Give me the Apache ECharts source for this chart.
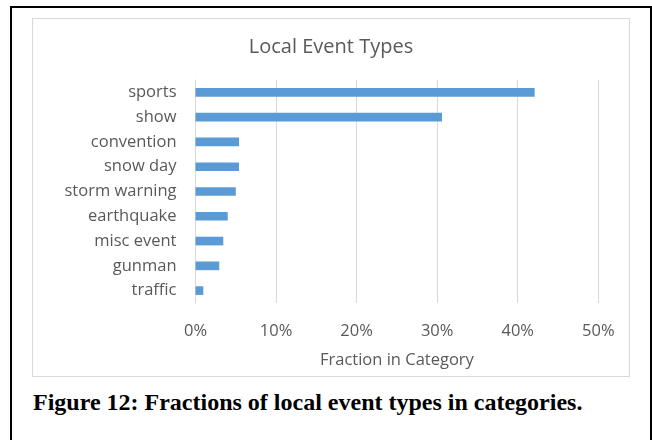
<!DOCTYPE html>
<html>
<head>
<meta charset="utf-8">
<script src="https://cdn.jsdelivr.net/npm/echarts@6/dist/echarts.min.js"></script>
<style>
body{ margin:0; background:#fff; width:652px; height:440px; overflow:hidden; position:relative; }
.outer{ position:absolute; left:10px; top:6px; width:638px; height:460px; border:2px solid #000; }
#chart{ position:absolute; left:32px; top:18px; width:598px; height:359px; border:1px solid #d9d9d9; box-sizing:border-box; }
.caption{ position:absolute; left:33px; top:389px; font:bold 24px "Liberation Serif", "Times New Roman", serif; color:#000; white-space:nowrap; }
</style>
</head>
<body>
<div class="outer"></div>
<div id="chart"></div>
<div class="caption">Figure 12: Fractions of local event types in categories.</div>
<script>
// categories top to bottom, values in percent
var categories = ['sports', 'show', 'convention', 'snow day', 'storm warning', 'earthquake', 'misc event', 'gunman', 'traffic'];
var fractions = [42.1, 30.6, 5.4, 5.4, 5.0, 4.0, 3.45, 2.95, 0.97];
var tickValues = [0, 10, 20, 30, 40, 50];

var myChart = echarts.init(document.getElementById('chart'));
var option = {
    animation: false,
    textStyle: { fontFamily: 'Open Sans' },
    title: {
        text: 'Local Event Types',
        left: 'center',
        top: 18,
        padding: 0,
        textStyle: { fontFamily: 'Open Sans', fontSize: 20, fontWeight: 'normal', color: '#595959' }
    },
    grid: { left: 162.5, right: 30.7, top: 61, bottom: 73 },
    xAxis: {
        type: 'value',
        min: tickValues[0],
        max: tickValues[tickValues.length - 1],
        interval: 10,
        name: 'Fraction in Category',
        nameLocation: 'middle',
        nameGap: 49,
        nameTextStyle: { fontSize: 16.5, color: '#595959' },
        axisLine: { show: false },
        axisTick: { show: false },
        axisLabel: { margin: 20, fontSize: 16.5, color: '#595959', formatter: '{value}%' },
        splitLine: { lineStyle: { color: '#d9d9d9', width: 1 } }
    },
    yAxis: {
        type: 'category',
        data: categories,
        inverse: true,
        axisLine: { lineStyle: { color: '#d9d9d9' } },
        axisTick: { show: false },
        axisLabel: { margin: 19, fontSize: 16.5, color: '#595959' }
    },
    series: [
        {
            type: 'bar',
            data: fractions,
            barCategoryGap: '65%',
            itemStyle: { color: '#5b9bd5' }
        }
    ]
};
myChart.setOption(option);
</script>
</body>
</html>
